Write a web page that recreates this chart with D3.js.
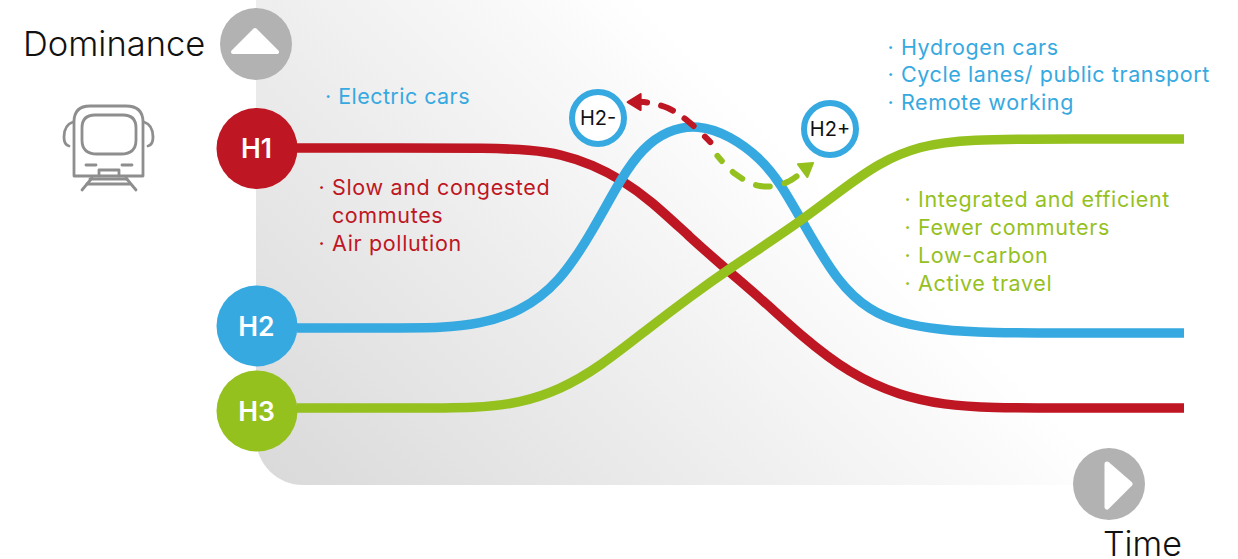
<!DOCTYPE html>
<html>
<head>
<meta charset="utf-8">
<script src="https://cdn.jsdelivr.net/npm/d3@7"></script>
<style>
html,body{margin:0;padding:0;background:#fff;}
svg{display:block;}
text{font-family:Inter,"Noto Sans",sans-serif;}
</style>
</head>
<body>
<svg id="chart" width="1238" height="559"></svg>
<script>
// Three horizons: dominance (0-100) of each mode over time (0-100)
const horizonNames = ["H1", "H2", "H3"];
const horizonColors = ["#be1622", "#36a9e1", "#95c11f"];
const h1Time = [0, 11.6, 21.8, 26.3, 29.7, 33.4, 36.6, 39.8, 44.3, 48.5, 52.5, 56.7, 62.3, 68.0, 73.1, 77.6, 88.8, 100];
const h1Dominance = [92.2, 92.2, 92.2, 91.5, 90.1, 86.2, 80.9, 73.8, 60.6, 48.9, 38.3, 25.9, 12.1, 4.3, 1.1, 0, 0, 0];
const h2Time = [0, 11.6, 16.1, 20.6, 25.1, 29.6, 33.4, 36.6, 39.0, 41.7, 45.2, 48.8, 52.2, 54.5, 57.3, 61.0, 64.6, 68.0, 72.5, 77.6, 88.8, 100];
const h2Dominance = [28.4, 28.4, 28.4, 29.8, 34.0, 44.3, 63.1, 81.9, 92.2, 98.4, 100.6, 96.6, 88.7, 79.8, 64.2, 44.3, 34.4, 30.1, 27.7, 26.6, 26.6, 26.6];
const h3Time = [0, 11.6, 20.6, 25.1, 29.6, 34.1, 39.8, 44.3, 48.5, 56.7, 60.9, 65.7, 70.2, 75.3, 87.7, 100];
const h3Dominance = [0, 0, 0, 1.8, 6.4, 14.5, 28.7, 39.4, 48.9, 66.0, 76.2, 87.2, 92.9, 95.4, 95.4, 95.4];

// Dashed excursions from the H2 peak towards the H2- and H2+ outcomes
const minusTime = [46.6, 44.2, 41.8, 39.1, 37.5];
const minusDominance = [94.3, 101.4, 106.4, 108.5, 108.5];
const plusTime = [47.4, 49.4, 52.2, 55.2, 58.0];
const plusDominance = [89.4, 83.0, 78.7, 80.0, 86.5];
const minusDash = "8 15 12 14 13 14 10 60";
const plusDash = "7 15 12 15 14 15 14 60";

const leftNotes = ["· Electric cars"];
const redNotes = ["· Slow and congested", "  commutes", "· Air pollution"];
const blueNotes = ["· Hydrogen cars", "· Cycle lanes/ public transport", "· Remote working"];
const greenNotes = ["· Integrated and efficient", "· Fewer commuters", "· Low-carbon", "· Active travel"];

const svg = d3.select("#chart");
const x = d3.scaleLinear().domain([0, 100]).range([297, 1184]);
const y = d3.scaleLinear().domain([0, 100]).range([408, 126]);
const line = d3.line().x(d => x(d[0])).y(d => y(d[1])).curve(d3.curveBasis);
const dashLine = d3.line().x(d => x(d[0])).y(d => y(d[1])).curve(d3.curveCatmullRom.alpha(0.5));
const zip = (a, b) => a.map((v, i) => [v, b[i]]);

const defs = svg.append("defs");
const grad = defs.append("linearGradient").attr("id", "bg")
  .attr("gradientUnits", "userSpaceOnUse")
  .attr("x1", 270).attr("y1", 480).attr("x2", 770).attr("y2", -20);
grad.append("stop").attr("offset", 0).attr("stop-color", "#dadada");
grad.append("stop").attr("offset", 0.45).attr("stop-color", "#ededed");
grad.append("stop").attr("offset", 0.85).attr("stop-color", "#ffffff");
grad.append("stop").attr("offset", 1).attr("stop-color", "#ffffff");

// Backdrop panel with a rounded lower-left corner
svg.append("path").attr("fill", "url(#bg)")
  .attr("d", "M256,0H1110V485H303A47,47 0 0 1 256,438Z");

// Horizon curves, green crossing over the others
const curves = [zip(h1Time, h1Dominance), zip(h2Time, h2Dominance), zip(h3Time, h3Dominance)];
svg.selectAll("path.curve").data(curves).join("path")
  .attr("class", "curve").attr("fill", "none")
  .attr("stroke", (d, i) => horizonColors[i]).attr("stroke-width", 9.5)
  .attr("d", line);

// Dashed excursions and their arrowheads
function excursion(times, doms, color, dash) {
  const pts = zip(times, doms);
  svg.append("path").attr("d", dashLine(pts)).attr("fill", "none")
    .attr("stroke", color).attr("stroke-width", 6).attr("stroke-linecap", "round")
    .attr("stroke-dasharray", dash);
  const a = pts[pts.length - 2], b = pts[pts.length - 1];
  const ang = Math.atan2(y(b[1]) - y(a[1]), x(b[0]) - x(a[0])) * 180 / Math.PI;
  svg.append("path").attr("d", "M2,0L-11,-8L-11,8Z").attr("fill", color)
    .attr("stroke", color).attr("stroke-width", 2).attr("stroke-linejoin", "round")
    .attr("transform", `translate(${x(b[0])},${y(b[1])}) rotate(${ang})`);
}
excursion(minusTime, minusDominance, horizonColors[0], minusDash);
excursion(plusTime, plusDominance, horizonColors[2], plusDash);

// Horizon badges at the curve starts
const badgeY = [h1Dominance[0], h2Dominance[0], h3Dominance[0]];
const badges = svg.selectAll("g.badge").data(horizonNames).join("g")
  .attr("class", "badge")
  .attr("transform", (d, i) => `translate(257,${y(badgeY[i]) + [0.5, -2, 3][i]})`);
badges.append("circle").attr("r", 40.5).attr("fill", (d, i) => horizonColors[i]);
badges.append("text").text(d => d).attr("text-anchor", "middle").attr("x", -0.5).attr("y", 10)
  .attr("fill", "#fff").attr("font-size", 26.5).attr("font-weight", 600);

// H2- and H2+ outcome markers
const outcomes = [["H2-", 598, 118], ["H2+", 830, 129]];
const og = svg.selectAll("g.outcome").data(outcomes).join("g").attr("class", "outcome")
  .attr("transform", d => `translate(${d[1]},${d[2]})`);
og.append("circle").attr("r", 26).attr("fill", "#fff").attr("stroke", horizonColors[1]).attr("stroke-width", 6);
og.append("text").text(d => d[0]).attr("text-anchor", "middle").attr("y", 7)
  .attr("font-size", 20).attr("fill", "#111");

// Annotation lists
function notes(lines, left, first, step, color, spacing) {
  svg.append("g").selectAll("text").data(lines).join("text")
    .attr("x", left).attr("y", (d, i) => first + i * step)
    .attr("xml:space", "preserve").style("white-space", "pre")
    .attr("fill", color).attr("font-size", 21.5).attr("letter-spacing", spacing)
    .text(d => d);
}
notes(leftNotes, 325, 104, 28, horizonColors[1], 0.45);
notes(redNotes, 318.5, 195, 28, horizonColors[0], 0.65);
notes(blueNotes, 887.5, 54.5, 27.5, horizonColors[1], 0.6);
notes(greenNotes, 904.5, 207, 28, horizonColors[2], 0.65);

// Axis end buttons
svg.append("circle").attr("cx", 256).attr("cy", 44).attr("r", 36).attr("fill", "#b2b2b2");
svg.append("path").attr("d", "M255,30L277,52H233Z").attr("fill", "#fff")
  .attr("stroke", "#fff").attr("stroke-width", 4).attr("stroke-linejoin", "round");
svg.append("circle").attr("cx", 1109).attr("cy", 484).attr("r", 36).attr("fill", "#b2b2b2");
svg.append("path").attr("d", "M1107,464L1130,484L1107,507Z").attr("fill", "#fff")
  .attr("stroke", "#fff").attr("stroke-width", 5).attr("stroke-linejoin", "round");

// Axis titles
svg.append("text").text("Dominance").attr("x", 23).attr("y", 56)
  .attr("font-size", 34.5).attr("font-weight", 300).attr("fill", "#111");
svg.append("text").text("Time").attr("x", 1103).attr("y", 556)
  .attr("font-size", 34).attr("font-weight", 300).attr("fill", "#111");

// Tram pictogram
const tram = svg.append("g").attr("fill", "none").attr("stroke", "#8e8e8e")
  .attr("stroke-width", 2.8).attr("stroke-linecap", "round").attr("stroke-linejoin", "round");
[
  "M74,176V122Q74,106 90,106H126Q143,106 143,122V176Z",
  "M82,128Q82,115 95,115H123Q136,115 136,128V140Q136,154 121,154H97Q82,154 82,140Z",
  "M73,122Q64,125 64,137Q64,145 69,146",
  "M144,122Q153,125 153,137Q153,145 148,146",
  "M86,165H96", "M122,165H132",
  "M99,176V170H119V176",
  "M90,179H127", "M87,184H130",
  "M82,190L92,178", "M136,190L126,178"
].forEach(d => tram.append("path").attr("d", d));
</script>
</body>
</html>
